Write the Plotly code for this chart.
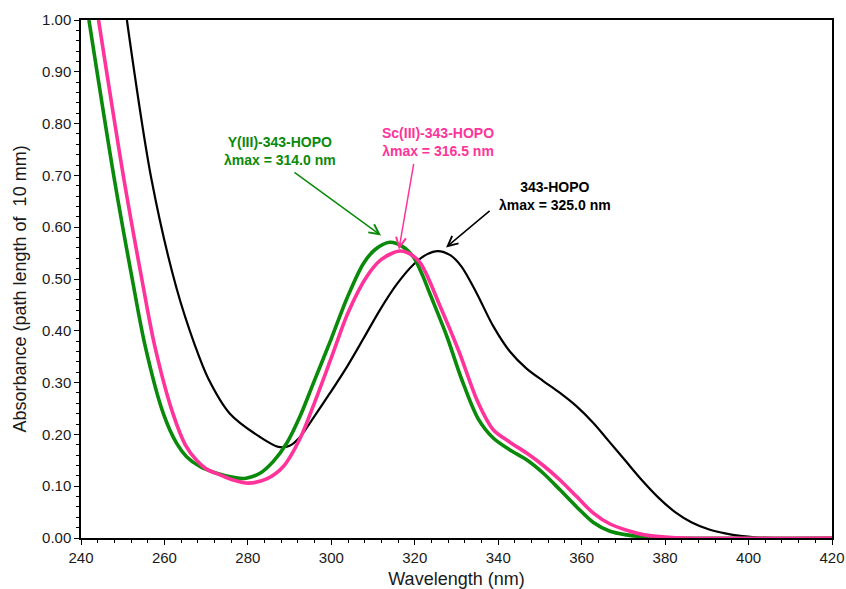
import plotly.graph_objects as go

# ---- data ----
hopo_wl = [251.0, 256.9, 262.9, 267.3, 270.5, 275.7, 282.9, 287.3, 290.0, 292.5, 295.7, 299.7,
           303.7, 307.7, 311.7, 315.7, 319.7, 323.0, 325.5, 328.5, 331.2, 334.8, 338.8, 342.8,
           346.8, 350.8, 354.8, 358.8, 362.8, 366.4, 370.4, 374.4, 378.4, 382.4, 386.4, 390.4,
           394.4, 398.0, 402.0, 406.0, 420.0]
hopo_abs = [1.000, 0.692, 0.482, 0.372, 0.308, 0.240, 0.195, 0.176, 0.178, 0.195, 0.232, 0.280,
            0.330, 0.385, 0.441, 0.490, 0.528, 0.548, 0.554, 0.546, 0.524, 0.473, 0.409, 0.360,
            0.327, 0.303, 0.280, 0.254, 0.222, 0.188, 0.150, 0.112, 0.078, 0.050, 0.030, 0.017,
            0.009, 0.004, 0.001, 0.000, 0.000]

y_wl = [241.9, 248.0, 252.3, 255.4, 259.7, 262.9, 265.3, 268.5, 272.5, 276.5, 279.3, 282.9,
        286.1, 289.3, 292.5, 295.7, 300.0, 303.7, 307.7, 310.5, 314.0, 317.0, 319.7, 321.7,
        323.7, 327.7, 331.3, 335.2, 338.8, 342.8, 346.8, 350.8, 354.8, 358.8, 362.8, 366.8,
        370.8, 375.0, 380.0, 420.0]
y_abs = [1.000, 0.692, 0.499, 0.370, 0.241, 0.183, 0.157, 0.138, 0.125, 0.117, 0.115, 0.125,
         0.148, 0.183, 0.235, 0.299, 0.385, 0.462, 0.530, 0.557, 0.571, 0.563, 0.542, 0.510,
         0.470, 0.389, 0.305, 0.230, 0.193, 0.170, 0.151, 0.125, 0.093, 0.060, 0.030, 0.013,
         0.006, 0.002, 0.000, 0.000]

sc_wl = [244.2, 250.3, 254.6, 257.7, 262.0, 265.0, 267.7, 270.1, 273.3, 276.5, 280.1, 284.5,
         288.5, 292.5, 296.0, 300.0, 304.0, 308.5, 312.0, 316.3, 318.5, 321.3, 326.1, 330.5,
         335.2, 338.8, 342.8, 346.8, 350.8, 354.8, 358.8, 362.8, 366.8, 370.8, 375.0, 380.0,
         385.0, 420.0]
sc_abs = [1.000, 0.692, 0.499, 0.370, 0.241, 0.180, 0.150, 0.133, 0.122, 0.112, 0.106, 0.114,
          0.138, 0.192, 0.262, 0.348, 0.435, 0.505, 0.538, 0.554, 0.550, 0.531, 0.447, 0.362,
          0.261, 0.209, 0.185, 0.164, 0.140, 0.112, 0.080, 0.048, 0.027, 0.015, 0.006, 0.002,
          0.000, 0.000]

x_ticks = [240, 260, 280, 300, 320, 340, 360, 380, 400, 420]
y_ticks = [0.0, 0.1, 0.2, 0.3, 0.4, 0.5, 0.6, 0.7, 0.8, 0.9, 1.0]

BLACK = "#000000"
GREEN = "#0a8a0a"
PINK = "#ff3399"
FONT = "Liberation Sans, Arial, sans-serif"

fig = go.Figure()
fig.add_trace(go.Scatter(x=hopo_wl, y=hopo_abs, mode="lines", name="343-HOPO",
                         line=dict(color=BLACK, width=2.2, shape="spline", smoothing=0.9)))
fig.add_trace(go.Scatter(x=y_wl, y=y_abs, mode="lines", name="Y(III)-343-HOPO",
                         line=dict(color=GREEN, width=3.6, shape="spline", smoothing=0.9)))
fig.add_trace(go.Scatter(x=sc_wl, y=sc_abs, mode="lines", name="Sc(III)-343-HOPO",
                         line=dict(color=PINK, width=3.6, shape="spline", smoothing=0.9)))

# text labels
labels = [
    (287.7, 0.747, "<b>Y(III)-343-HOPO<br>λmax = 314.0 nm</b>", GREEN),
    (325.6, 0.764, "<b>Sc(III)-343-HOPO<br>λmax = 316.5 nm</b>", PINK),
    (353.6, 0.661, "<b>343-HOPO<br>λmax = 325.0 nm</b>", BLACK),
]
for x, y, t, c in labels:
    fig.add_annotation(x=x, y=y, xref="x", yref="y", text=t, showarrow=False,
                       font=dict(family=FONT, size=14, color=c), align="center")

# arrows (tail -> head in data coordinates)
arrows = [
    (290.8, 0.708, 311.9, 0.584, GREEN, 1.5),
    (319.8, 0.725, 316.2, 0.557, PINK, 1.5),
    (338.3, 0.634, 327.5, 0.561, BLACK, 1.5),
]
for tx, ty, hx, hy, c, w in arrows:
    fig.add_annotation(x=hx, y=hy, ax=tx, ay=ty, xref="x", yref="y", axref="x", ayref="y",
                       text="", showarrow=True, arrowhead=5, arrowsize=1.3, arrowwidth=w,
                       arrowcolor=c, standoff=0)

# y-axis title (placed as rotated text, slightly below the plot centre as in the reference)
fig.add_annotation(xref="paper", yref="paper", x=-0.081, y=0.48, xanchor="center", yanchor="middle",
                   text="Absorbance (path length of\u00a0 10 mm)", textangle=-90, showarrow=False,
                   font=dict(family=FONT, size=18, color="#1a1a1a"))

fig.update_xaxes(range=[240, 420], tickvals=x_ticks, ticktext=[str(v) for v in x_ticks],
                 showline=True, linecolor="black", linewidth=1.5, mirror=True,
                 ticks="outside", ticklen=5, tickwidth=1, tickcolor="black",
                 minor=dict(dtick=4, ticks="outside", ticklen=3, tickcolor="black", showgrid=False),
                 showgrid=False, zeroline=False,
                 tickfont=dict(family=FONT, size=15, color="#1a1a1a"),
                 title=dict(text="Wavelength (nm)", font=dict(family=FONT, size=18, color="#1a1a1a"),
                            standoff=15))
fig.update_yaxes(range=[0, 1.0], tickvals=y_ticks, ticktext=[f"{v:.2f}" for v in y_ticks],
                 showline=True, linecolor="black", linewidth=1.5, mirror=True,
                 ticks="outside", ticklen=5, tickwidth=1, tickcolor="black",
                 minor=dict(dtick=0.02, ticks="outside", ticklen=3, tickcolor="black", showgrid=False),
                 showgrid=False, zeroline=False,
                 tickfont=dict(family=FONT, size=15, color="#1a1a1a"))

fig.update_layout(width=846, height=589, showlegend=False,
                  margin=dict(l=81, r=14, t=20, b=51, autoexpand=False),
                  plot_bgcolor="white", paper_bgcolor="white")

fig.write_html("out.html", config={"displayModeBar": False},
               post_script="document.body.style.margin='0';document.body.style.overflow='hidden';")
